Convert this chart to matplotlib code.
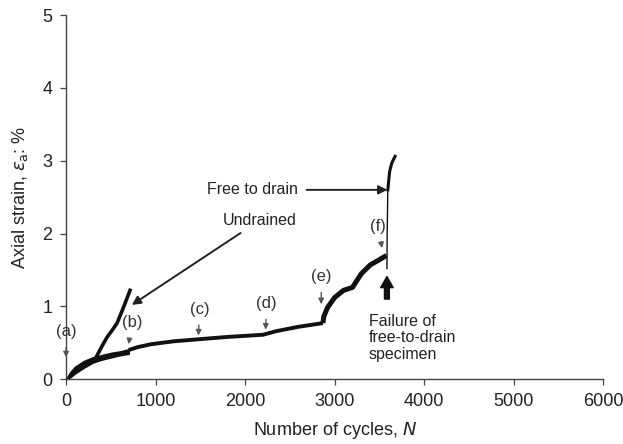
import numpy as np
import matplotlib.pyplot as plt

plt.rcParams['font.family'] = ['Liberation Sans', 'DejaVu Sans']

# thick scatter band at the start of both tests (cycles 0-700)
band_n = [0, 50, 100, 200, 300, 400, 500, 600, 700]
band_lo = [0, 0.03, 0.08, 0.16, 0.23, 0.27, 0.30, 0.33, 0.35]
band_hi = [0, 0.10, 0.17, 0.25, 0.30, 0.33, 0.36, 0.38, 0.41]

# free-to-drain specimen after the common start
drained_n = [700, 800, 950, 1200, 1500, 1800, 2200, 2350, 2600, 2870,
             2880, 2920, 3000, 3100, 3200, 3300, 3400, 3500, 3580]
drained_e = [0.40, 0.44, 0.48, 0.52, 0.55, 0.58, 0.61, 0.66, 0.72, 0.77,
             0.86, 0.98, 1.12, 1.22, 1.26, 1.45, 1.57, 1.64, 1.70]

# failure of the free-to-drain specimen
failure_n = [3585, 3588, 3595, 3615, 3640, 3676]
failure_e = [1.52, 2.00, 2.60, 2.85, 2.97, 3.06]

# undrained specimen
undrained_n = [340, 400, 460, 520, 570, 640, 715]
undrained_e = [0.31, 0.45, 0.58, 0.68, 0.77, 0.98, 1.22]

# stage markers (a)-(f): label position and arrow tip
stage_labels = ['(a)', '(b)', '(c)', '(d)', '(e)', '(f)']
stage_n = [0, 735, 1490, 2240, 2855, 3490]
stage_text_e = [0.65, 0.78, 0.96, 1.04, 1.41, 2.10]
stage_tip_e = [0.30, 0.48, 0.60, 0.68, 1.03, 1.80]
stage_tip_n = [0, 700, 1480, 2230, 2850, 3530]

fig, ax = plt.subplots(figsize=(6.23, 4.44), dpi=100)
fig.subplots_adjust(left=0.106, right=0.968, bottom=0.146, top=0.966)

ax.fill_between(band_n, band_lo, band_hi, color='#111111', lw=1.2,
                edgecolor='#111111')
ax.plot(drained_n[:10], drained_e[:10], color='#111111', lw=2.8,
        solid_capstyle='butt')
ax.plot(drained_n[9:], drained_e[9:], color='#111111', lw=3.6,
        solid_capstyle='butt')
ax.plot(failure_n[:3], failure_e[:3], color='#111111', lw=1.0)
ax.plot(failure_n[2:], failure_e[2:], color='#111111', lw=2.2)
ax.plot(undrained_n, undrained_e, color='#111111', lw=2.6)

for lab, n, te, tn, tip in zip(stage_labels, stage_n, stage_text_e,
                               stage_tip_n, stage_tip_e):
    ax.annotate(lab, xy=(tn, tip), xytext=(n, te), ha='center', va='center',
                fontsize=12, color='#333333',
                arrowprops=dict(arrowstyle='-|>', color='#555555', lw=1.0,
                                mutation_scale=8, shrinkA=4, shrinkB=0))

ax.annotate('Free to drain', xy=(3590, 2.60), xytext=(1580, 2.60),
            ha='left', va='center', fontsize=11.5, color='#222222',
            arrowprops=dict(arrowstyle='-|>', color='#222222', lw=1.4,
                            mutation_scale=13, shrinkA=4, shrinkB=0))
ax.annotate('Undrained', xy=(735, 1.02), xytext=(1750, 2.18),
            ha='left', va='center', fontsize=11.5, color='#222222',
            arrowprops=dict(arrowstyle='-|>', color='#222222', lw=1.4,
                            mutation_scale=13, shrinkA=3, shrinkB=0))
ax.annotate('', xy=(3585, 1.41), xytext=(3585, 1.10),
            arrowprops=dict(arrowstyle='simple,head_width=0.9,head_length=0.8,tail_width=0.35',
                            color='#111111', shrinkA=0, shrinkB=0))
ax.text(3380, 0.90, 'Failure of\nfree-to-drain\nspecimen', ha='left', va='top',
        fontsize=11.5, color='#222222', linespacing=1.15)

ax.set_xlim(0, 6000)
ax.set_ylim(0, 5)
ax.set_xticks(np.arange(0, 6001, 1000))
ax.set_yticks(np.arange(0, 6, 1))
ax.spines['top'].set_visible(False)
ax.spines['right'].set_visible(False)
for s in ('left', 'bottom'):
    ax.spines[s].set_color('#444444')
    ax.spines[s].set_linewidth(1.0)
ax.tick_params(direction='out', length=4, width=0.9, color='#444444',
               labelsize=13, labelcolor='#222222', pad=6)

ax.set_xlabel('Number of cycles, $\\it{N}$', fontsize=13, color='#222222',
              labelpad=7)
ax.set_ylabel('Axial strain, $\\varepsilon_\\mathrm{a}$: %', fontsize=13,
              color='#222222', labelpad=9)

fig.savefig('out.png', dpi=100)
